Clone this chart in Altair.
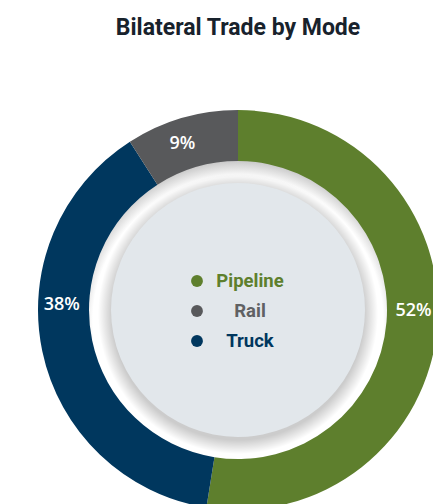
import altair as alt
import pandas as pd

# ---- data ----
modes = ["Pipeline", "Truck", "Rail"]
shares = [52, 38, 9]
share_labels = ["52%", "38%", "9%"]
mode_colors = ["#5E7F2D", "#00375E", "#58595B"]
legend_order = ["Pipeline", "Rail", "Truck"]
legend_text_colors = ["#5E7F2D", "#606163", "#00375E"]
title_text = "Bilateral Trade by Mode"

# label nudges (style): pixel offsets from the slice mid-angle position
label_nudge = {"Pipeline": (0, -13), "Truck": (-4, -41), "Rail": (-6, 3)}

CX, CY = 230, 302
TWO_PI = 6.283185307

df = pd.DataFrame({"mode": modes, "share": shares, "label": share_labels, "idx": list(range(len(modes)))})
leg_df = pd.DataFrame({"mode": legend_order})
one = pd.DataFrame({"k": [0]})

color_scale = alt.Scale(domain=modes, range=mode_colors)
color_enc = alt.Color("mode:N", scale=color_scale, legend=None)
xy = dict(x=alt.value(CX), y=alt.value(CY))

# white ring behind the donut hole with a soft shadow cast by the donut
ring = alt.Chart(one).mark_arc(
    theta=0, theta2=TWO_PI, radius=150, radius2=0,
    fill={"gradient": "radial", "x1": 0.5, "y1": 0.54, "r1": 0,
          "x2": 0.5, "y2": 0.54, "r2": 0.55,
          "stops": [{"offset": 0, "color": "#ffffff"},
                    {"offset": 0.88, "color": "#ffffff"},
                    {"offset": 1, "color": "#bcbcbc"}]},
).encode(**xy)

donut = alt.Chart(df).mark_arc(radius=200, radius2=149).encode(
    theta=alt.Theta("share:Q", stack=True),
    color=color_enc,
    order=alt.Order("idx:Q"),
    **xy,
)

# drop shadow of the inner disc
shadow = alt.Chart(one).mark_arc(
    theta=0, theta2=TWO_PI, radius=140, radius2=0,
    fill={"gradient": "radial", "x1": 0.5, "y1": 0.5, "r1": 0,
          "x2": 0.5, "y2": 0.5, "r2": 0.5,
          "stops": [{"offset": 0, "color": "rgba(0,0,0,0.25)"},
                    {"offset": 0.9, "color": "rgba(0,0,0,0.2)"},
                    {"offset": 1, "color": "rgba(0,0,0,0)"}]},
).encode(x=alt.value(CX), y=alt.value(CY + 4))

disc = alt.Chart(one).mark_arc(
    theta=0, theta2=TWO_PI, radius=127, radius2=0, fill="#E2E7EB",
).encode(**xy)

label_layers = []
for m, (ddx, ddy) in label_nudge.items():
    label_layers.append(
        alt.Chart(df).mark_text(
            radius=176, fontSize=18, font="Open Sans", fontWeight=600, color="white",
            align="center", baseline="middle", dx=ddx, dy=ddy,
        ).encode(
            theta=alt.Theta("share:Q", stack=True),
            order=alt.Order("idx:Q"),
            text="label:N",
            opacity=alt.condition(alt.datum.mode == m, alt.value(1), alt.value(0)),
            **xy,
        )
    )

ypos = alt.Y("mode:N", scale=alt.Scale(type="point", domain=legend_order, range=[273, 333], padding=0), axis=None)

dots = alt.Chart(leg_df).mark_circle(size=140, opacity=1).encode(
    x=alt.value(189), y=ypos, color=color_enc,
)

leg_text = alt.Chart(leg_df).mark_text(
    fontSize=18.5, fontWeight="bold", font="Roboto", align="center", baseline="middle",
).encode(
    x=alt.value(242), y=ypos, text="mode:N",
    color=alt.Color("mode:N", scale=alt.Scale(domain=legend_order, range=legend_text_colors), legend=None),
)

title = alt.Chart(one).mark_text(
    text=title_text, fontSize=23, fontWeight="bold", font="Roboto",
    color="#18222C", align="center", baseline="middle",
).encode(x=alt.value(CX), y=alt.value(20))

chart = alt.layer(ring, donut, shadow, disc, *label_layers, dots, leg_text, title).properties(
    width=425, height=496, autosize="none", padding=0,
).resolve_scale(color="independent").configure_view(stroke=None)

chart.save("out.html", embed_options={"renderer": "svg", "actions": False})
